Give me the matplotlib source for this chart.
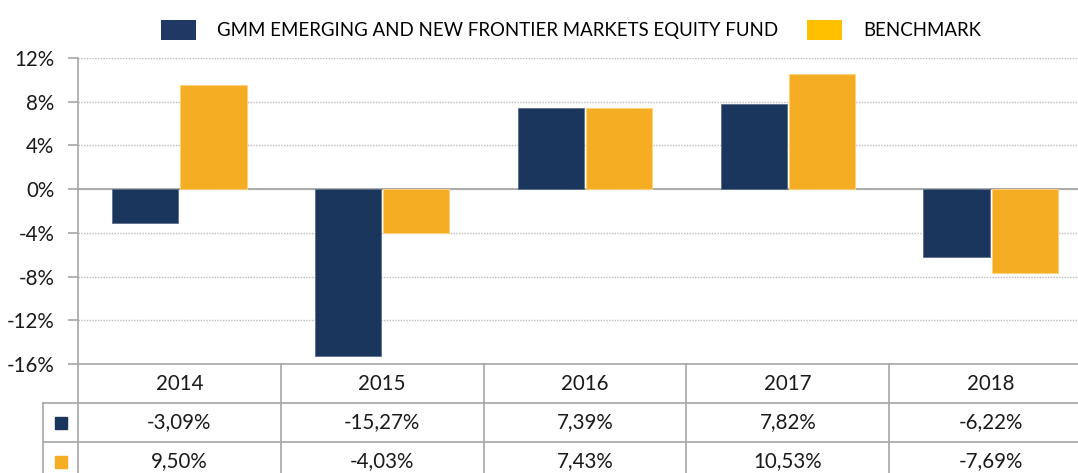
import numpy as np
import matplotlib
matplotlib.use('Agg')
import matplotlib.pyplot as plt
from matplotlib.patches import Patch

# data
years = ['2014', '2015', '2016', '2017', '2018']
fund = [-3.09, -15.27, 7.39, 7.82, -6.22]
bench = [9.50, -4.03, 7.43, 10.53, -7.69]
fund_labels = ['-3,09%', '-15,27%', '7,39%', '7,82%', '-6,22%']
bench_labels = ['9,50%', '-4,03%', '7,43%', '10,53%', '-7,69%']
yticks = [-16, -12, -8, -4, 0, 4, 8, 12]

NAVY = '#1B365D'
ORANGE = '#F5AD23'
GRID = '#A6A6A6'
TXT = '#1a1a1a'
plt.rcParams['font.family'] = ['Lato', 'DejaVu Sans']
FS = 14.8

W, H = 1078, 473
fig = plt.figure(figsize=(W / 100, H / 100), dpi=100)

# axes extends a bit past the right edge, like the cropped original
left_px, right_px, top_px, bot_px = 78, 1092, 58, 364
ax = fig.add_axes([left_px / W, 1 - bot_px / H, (right_px - left_px) / W, (bot_px - top_px) / H])

x = np.arange(len(years))
bw = 0.326
ax.bar(x - bw / 2 - 0.005, fund, bw, color=NAVY, edgecolor='#5a6f8c', linewidth=0.6, zorder=3)
ax.bar(x + bw / 2 + 0.005, bench, bw, color=ORANGE, edgecolor='#ffd27a', linewidth=0.6, zorder=3)

ax.set_xlim(-0.5, len(years) - 0.5)
ax.set_ylim(-16, 12)
ax.set_yticks(yticks)
ax.set_yticklabels([f'{t}%' for t in yticks], fontsize=14.8, color=TXT)
ax.set_xticks([])
ax.yaxis.grid(True, linestyle=(0, (1, 1)), color='#BBBBBB', linewidth=1)
ax.axhline(0, color=GRID, linewidth=1.3, zorder=2)
for s in ['top', 'right']:
    ax.spines[s].set_visible(False)
ax.spines['left'].set_color(GRID)
ax.spines['bottom'].set_color(GRID)
ax.spines['left'].set_linewidth(1.2)
ax.spines['bottom'].set_linewidth(1.2)
ax.tick_params(axis='y', length=7, color=GRID, width=1.2, pad=10)
ax.set_axisbelow(True)

# data table under the chart
leg_px = 43
row_h = 39
cat_w = (right_px - left_px) / len(years)
tx0 = -0.5 - (left_px - leg_px) / cat_w
tab = fig.add_axes([leg_px / W, 1 - (bot_px + 3 * row_h) / H,
                    (right_px - leg_px) / W, 3 * row_h / H])
tab.set_xlim(tx0, len(years) - 0.5)
tab.set_ylim(3, 0)
tab.axis('off')
lc = dict(color=GRID, linewidth=1.2, clip_on=False)
tab.plot([-0.5, -0.5], [0, 3], **lc)
tab.plot([tx0, tx0], [1, 3], **lc)
for i in range(1, len(years)):
    tab.plot([i - 0.5, i - 0.5], [0, 3], **lc)
tab.plot([tx0, len(years) - 0.5], [1, 1], **lc)
tab.plot([tx0, len(years) - 0.5], [2, 2], **lc)
for i, yr in enumerate(years):
    tab.text(i, 0.52, yr, ha='center', va='center', fontsize=FS, color=TXT)
    tab.text(i, 1.5, fund_labels[i], ha='center', va='center', fontsize=FS, color=TXT)
    tab.text(i, 2.5, bench_labels[i], ha='center', va='center', fontsize=FS, color=TXT)
mx = (tx0 - 0.5) / 2
tab.plot([mx], [1.5], marker='s', markersize=8, color=NAVY, linestyle='none')
tab.plot([mx], [2.5], marker='s', markersize=8, color=ORANGE, linestyle='none')

# legend
handles = [Patch(facecolor='#1F3864', label='GMM EMERGING AND NEW FRONTIER MARKETS EQUITY FUND'),
           Patch(facecolor='#FFC000', label='BENCHMARK')]
fig.legend(handles=handles, loc='center', bbox_to_anchor=(571 / W, 1 - 30 / H), ncol=2,
           frameon=False, fontsize=13.4, handlelength=1.88, handleheight=1.24,
           handletextpad=1.13, columnspacing=1.6, borderpad=0)

fig.savefig('out.png', dpi=100)
